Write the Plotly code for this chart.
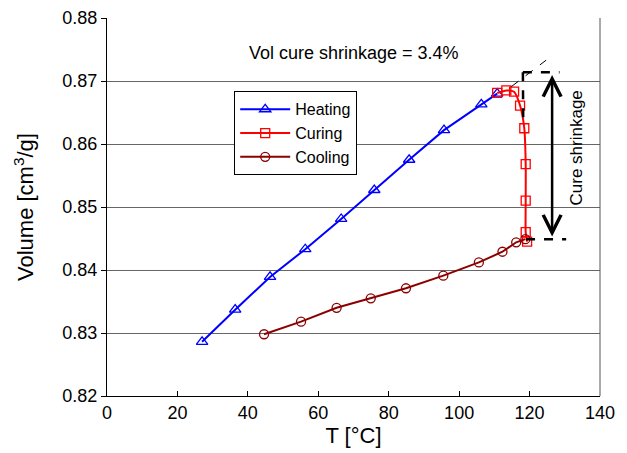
import plotly.graph_objects as go

# ---- data ----
heat_T = [27.0, 36.4, 46.3, 56.3, 66.5, 75.9, 85.8, 95.7, 106.3, 110.8]
heat_V = [0.8286, 0.8337, 0.8389, 0.8433, 0.8481, 0.8527, 0.8575, 0.8622, 0.8663, 0.8680]

cure_T = [110.8, 113.4, 115.6, 117.3, 118.5, 118.9, 118.9, 118.9, 119.3]
cure_V = [0.8681, 0.8685, 0.8683, 0.8661, 0.8625, 0.8568, 0.8510, 0.8460, 0.8445]

cool_T = [44.6, 55.1, 65.2, 74.9, 84.9, 95.5, 105.6, 112.3, 116.2, 118.8]
cool_V = [0.8298, 0.8318, 0.8340, 0.8355, 0.8371, 0.8391, 0.8412, 0.8429, 0.8444, 0.8449]

ext_T = [114.8, 124.7]          # thin dashed extension of heating
ext_V = [0.8691, 0.8733]
top_T = [118.1, 128.5]          # top of cure-shrinkage bracket
top_V = [0.8714, 0.8714]
vert_T = [118.1, 118.2]
vert_V = [0.8714, 0.8633]
bot_T = [119.0, 130.4]
bot_V = [0.8449, 0.8449]
arrow_T = 126.4
arrow_V = [0.8712, 0.8453]

x_ticks = [0, 20, 40, 60, 80, 100, 120, 140]
y_ticks = [0.82, 0.83, 0.84, 0.85, 0.86, 0.87, 0.88]

FONT = "Arial, Liberation Sans, sans-serif"

fig = go.Figure()

fig.add_trace(go.Scatter(x=heat_T, y=heat_V, mode="lines+markers", name="Heating",
                         line=dict(color="#0000FF", width=2),
                         marker=dict(symbol="triangle-up-open", size=10, color="#0000FF",
                                     line=dict(width=1.3, color="#0000FF"))))
fig.add_trace(go.Scatter(x=cure_T, y=cure_V, mode="lines+markers", name="Curing",
                         line=dict(color="#FF0000", width=2, shape="spline", smoothing=0.6),
                         marker=dict(symbol="square-open", size=9, color="#FF0000",
                                     line=dict(width=1.3, color="#FF0000"))))
fig.add_trace(go.Scatter(x=cool_T, y=cool_V, mode="lines+markers", name="Cooling",
                         line=dict(color="#8B0000", width=2),
                         marker=dict(symbol="circle-open", size=9, color="#8B0000",
                                     line=dict(width=1.3, color="#8B0000"))))

for xs, ys, w, d in [(ext_T, ext_V, 1, "dash"), (top_T, top_V, 2.5, "dash"),
                     (vert_T, vert_V, 2.5, "dash"), (bot_T, bot_V, 2.5, "dash")]:
    fig.add_trace(go.Scatter(x=xs, y=ys, mode="lines", showlegend=False, hoverinfo="skip",
                             line=dict(color="black", width=w, dash=d)))

fig.add_annotation(x=arrow_T, y=arrow_V[1], ax=arrow_T, ay=arrow_V[0],
                   xref="x", yref="y", axref="x", ayref="y", text="",
                   showarrow=True, arrowhead=5, startarrowhead=5, arrowside="end+start",
                   arrowwidth=2.5, arrowsize=1.4, startarrowsize=1.4, arrowcolor="black")

fig.add_annotation(x=70, y=0.8744, xref="x", yref="y", text="Vol cure shrinkage = 3.4%",
                   showarrow=False, font=dict(family=FONT, size=18, color="black"))
fig.add_annotation(x=133.2, y=0.8593, xref="x", yref="y", text="Cure shrinkage",
                   textangle=-90, showarrow=False, font=dict(family=FONT, size=17, color="black"))

fig.add_shape(type="line", xref="paper", yref="paper", x0=1, x1=1, y0=0, y1=1,
              line=dict(color="#555555", width=1))

fig.update_layout(
    width=627, height=453,
    margin=dict(l=107, r=27, t=18, b=57),
    paper_bgcolor="white", plot_bgcolor="white",
    font=dict(family=FONT, size=18, color="black"),
    showlegend=True,
    legend=dict(x=0.258, y=0.806, xanchor="left", yanchor="top",
                bgcolor="white", bordercolor="black", borderwidth=1,
                font=dict(size=16), tracegroupgap=0, itemwidth=50),
    xaxis=dict(range=[0, 140], tickvals=x_ticks, ticks="inside", ticklen=5,
               tickcolor="black", showline=True, linecolor="black", linewidth=1,
               showgrid=False, zeroline=False, title=dict(text="T [°C]", standoff=6),
               tickfont=dict(size=18), automargin=False),
    yaxis=dict(range=[0.82, 0.88], tickvals=y_ticks, tickformat=".2f", ticks="outside",
               ticklen=5, tickcolor="black", showline=True, linecolor="black", linewidth=1,
               showgrid=True, gridcolor="#666666", gridwidth=1, zeroline=False,
               title=dict(text="Volume [cm<sup>3</sup>/g]", standoff=22),
               tickfont=dict(size=18), automargin=False),
)

fig.write_html("out.html")
